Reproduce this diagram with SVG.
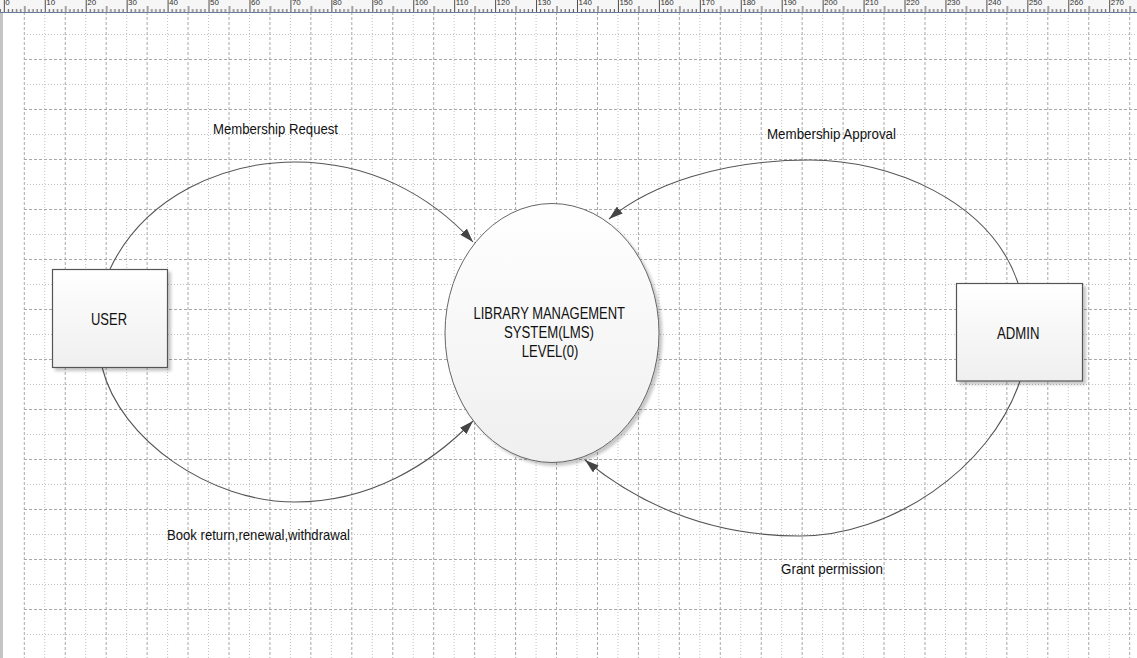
<svg xmlns="http://www.w3.org/2000/svg" width="1137" height="658" viewBox="0 0 1137 658">
<style>
.ga{fill:none;stroke:#a8a8a8;stroke-width:1;stroke-dasharray:3 2}
.gb{fill:none;stroke:#c2c2c2;stroke-width:1;stroke-dasharray:1 2}
.rl{font-family:"Liberation Sans",Arial,sans-serif;font-size:8px;fill:#333}
.t{font-family:"Liberation Sans",Arial,sans-serif;fill:#111}
.lbl{font-size:15px}
.nd{font-size:17px}
.el{font-size:16px;text-anchor:middle}
.box{fill:url(#fg);stroke:#555;stroke-width:1.2}
.con{fill:none;stroke:#555;stroke-width:1.1}
</style>
<defs>
<linearGradient id="fg" x1="0" y1="0" x2="0" y2="1">
<stop offset="0" stop-color="#ffffff"/>
<stop offset="1" stop-color="#efefef"/>
</linearGradient>
<filter id="sh" x="-10%" y="-10%" width="125%" height="125%">
<feDropShadow dx="3" dy="3" stdDeviation="1.5" flood-color="#000" flood-opacity="0.22"/>
</filter>
<marker id="ar" markerUnits="userSpaceOnUse" markerWidth="14" markerHeight="9" refX="14" refY="4.5" orient="auto">
<path d="M0,0 L14,4.5 L0,9 z" fill="#444"/>
</marker>
<pattern id="rt" patternUnits="userSpaceOnUse" x="3.83" y="0" width="40.94" height="12">
<path d="M0.5,0V12 M4.59,9V12 M8.69,9V12 M12.78,9V12 M16.88,9V12 M20.97,6V12 M25.06,9V12 M29.16,9V12 M33.25,9V12 M37.35,9V12" stroke="#222" stroke-width="0.8" fill="none"/>
</pattern>
</defs>
<rect x="0" y="0" width="1137" height="658" fill="#ffffff"/>
<g id="grid">
<path class="ga" d="M24.3,12V658M65.24,12V658M106.18,12V658M147.12,12V658M188.06,12V658M229,12V658M269.94,12V658M310.88,12V658M351.82,12V658M392.76,12V658M433.7,12V658M474.64,12V658M515.58,12V658M556.52,12V658M597.46,12V658M638.4,12V658M679.34,12V658M720.28,12V658M761.22,12V658M802.16,12V658M843.1,12V658M884.04,12V658M924.98,12V658M965.92,12V658M1006.86,12V658M1047.8,12V658M1088.74,12V658M1129.68,12V658"/>
<path class="gb" d="M44.77,12V658M85.71,12V658M126.65,12V658M167.59,12V658M208.53,12V658M249.47,12V658M290.41,12V658M331.35,12V658M372.29,12V658M413.23,12V658M454.17,12V658M495.11,12V658M536.05,12V658M576.99,12V658M617.93,12V658M658.87,12V658M699.81,12V658M740.75,12V658M781.69,12V658M822.63,12V658M863.57,12V658M904.51,12V658M945.45,12V658M986.39,12V658M1027.33,12V658M1068.27,12V658M1109.21,12V658"/>
<path class="gb" d="M24,34.5H1137M24,84.5H1137M24,134.5H1137M24,184.5H1137M24,234.5H1137M24,284.5H1137M24,334.5H1137M24,384.5H1137M24,434.5H1137M24,484.5H1137M24,534.5H1137M24,584.5H1137M24,634.5H1137"/>
<path class="ga" d="M24,59.5H1137M24,109.5H1137M24,159.5H1137M24,209.5H1137M24,259.5H1137M24,309.5H1137M24,359.5H1137M24,409.5H1137M24,459.5H1137M24,509.5H1137M24,559.5H1137M24,609.5H1137"/>
<rect x="0" y="12" width="3" height="646" fill="#c4c4c4"/>
</g>
<g id="ruler">
<rect x="0" y="0" width="1137" height="12" fill="#f6f6f6"/>
<rect x="0" y="0" width="1137" height="12" fill="url(#rt)"/>
<line x1="0" y1="12.5" x2="1137" y2="12.5" stroke="#6b7b9b" stroke-width="1"/>
<g class="rl">
<text x="5.3" y="5">0</text><text x="46.3" y="5">10</text><text x="87.2" y="5">20</text><text x="128.1" y="5">30</text><text x="169.1" y="5">40</text><text x="210" y="5">50</text><text x="251" y="5">60</text><text x="291.9" y="5">70</text><text x="332.8" y="5">80</text><text x="373.8" y="5">90</text><text x="414.7" y="5">100</text><text x="455.7" y="5">110</text><text x="496.6" y="5">120</text><text x="537.5" y="5">130</text><text x="578.5" y="5">140</text><text x="619.4" y="5">150</text><text x="660.4" y="5">160</text><text x="701.3" y="5">170</text><text x="742.2" y="5">180</text><text x="783.2" y="5">190</text><text x="824.1" y="5">200</text><text x="865.1" y="5">210</text><text x="906" y="5">220</text><text x="946.9" y="5">230</text><text x="987.9" y="5">240</text><text x="1028.8" y="5">250</text><text x="1069.8" y="5">260</text><text x="1110.7" y="5">270</text>
</g>
</g>
<g id="connectors">
<path class="con" marker-end="url(#ar)" d="M110,269 C145,195 225,162 295,162 C370,162 430,195 473,242"/>
<path class="con" marker-end="url(#ar)" d="M102,367 C120,440 210,502 295,502 C370,502 430,465 473,421"/>
<path class="con" marker-end="url(#ar)" d="M1018,283 C990,200 890,160 810,160 C720,160 650,185 609,219"/>
<path class="con" marker-end="url(#ar)" d="M1020,381 C990,470 890,536 800,536 C710,536 640,505 585,460"/>
</g>
<g id="labels" class="t lbl">
<text x="213" y="134" textLength="125" lengthAdjust="spacingAndGlyphs">Membership Request</text>
<text x="767" y="139" textLength="129" lengthAdjust="spacingAndGlyphs">Membership Approval</text>
<text x="167" y="540" textLength="183" lengthAdjust="spacingAndGlyphs">Book return,renewal,withdrawal</text>
<text x="781" y="574" textLength="102" lengthAdjust="spacingAndGlyphs">Grant permission</text>
</g>
<g id="user">
<rect class="box" x="52.5" y="269.5" width="115" height="98" filter="url(#sh)"/>
<text class="t nd" x="91" y="325" textLength="36" lengthAdjust="spacingAndGlyphs">USER</text>
</g>
<g id="admin">
<rect class="box" x="956.5" y="283.5" width="126" height="97.5" filter="url(#sh)"/>
<text class="t nd" x="997" y="338.5" textLength="42.5" lengthAdjust="spacingAndGlyphs">ADMIN</text>
</g>
<g id="lms">
<ellipse class="box" cx="552" cy="333" rx="107" ry="129.5" filter="url(#sh)" style="stroke:#666;stroke-width:1"/>
<text class="t el" x="549.3" y="318.5" textLength="151.5" lengthAdjust="spacingAndGlyphs">LIBRARY MANAGEMENT</text>
<text class="t el" x="549" y="338.3" textLength="90" lengthAdjust="spacingAndGlyphs">SYSTEM(LMS)</text>
<text class="t el" x="550" y="357" textLength="56.5" lengthAdjust="spacingAndGlyphs">LEVEL(0)</text>
</g>
</svg>
